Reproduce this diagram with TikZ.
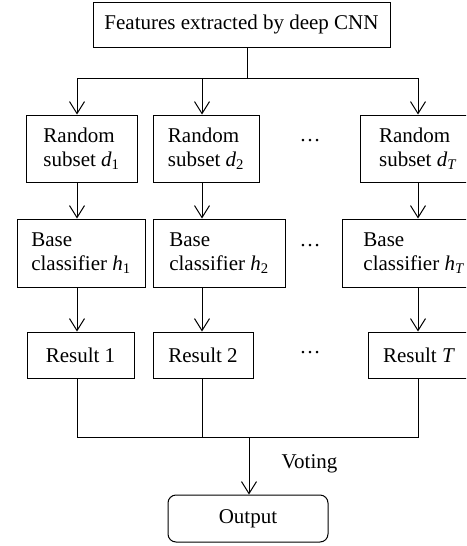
\documentclass[tikz,border=0pt]{standalone}
\usepackage{fontspec}
\setmainfont{Liberation Serif}
\usetikzlibrary{arrows.meta}

\begin{document}
\begin{tikzpicture}[x=1pt,y=-1pt,
	box/.style={draw, line width=1pt, align=left, inner sep=0pt, font=\fontsize{21}{24}\selectfont},
	lbl/.style={inner sep=0pt, font=\fontsize{21}{24}\selectfont},
	lin/.style={line width=1pt},
	arr/.style={line width=1pt, -{Straight Barb[length=12pt,width=15pt,line width=1pt]}}]
			\useasboundingbox (0,0) rectangle (466,546);
			\clip (0,0) rectangle (466,546);
			%%%%% START %%%%%
			\node[box, minimum width=297pt, minimum height=45pt] (feat) at (241.5,24.5) {Features extracted by deep CNN};
			
			\coordinate (colA) at (77,0);
			\coordinate (colB) at (202,0);
			\coordinate (colC) at (418,0);
			\coordinate (split) at (247,78);
			\coordinate (join) at (249,437);
			
			\node[box, minimum width=111pt, minimum height=67pt] (rnd1) at (81.5,148.5) {Random\\subset \textit{d}\textsubscript{1}};
			\node[box, minimum width=106pt, minimum height=67pt] (rnd2) at (206,148.5) {Random\\subset \textit{d}\textsubscript{2}};
			\node[box, minimum width=116pt, minimum height=67pt] (rnd3) at (418,148.5) {Random\\subset \textit{d}\textsubscript{\textit{T}}};
			
			\node[box, minimum width=128pt, minimum height=68pt] (base1) at (81,253) {Base\\classifier \textit{h}\textsubscript{1}};
			\node[box, minimum width=132pt, minimum height=68pt] (base2) at (219,253) {Base\\classifier \textit{h}\textsubscript{2}};
			\node[box, minimum width=144pt, minimum height=68pt] (base3) at (414,253) {Base\\classifier \textit{h}\textsubscript{\textit{T}}};
			
			\node[box, minimum width=107pt, minimum height=46pt] (res1) at (80.5,355) {Result 1};
			\node[box, minimum width=100pt, minimum height=46pt] (res2) at (203,355) {Result 2};
			\node[box, minimum width=102pt, minimum height=46pt] (res3) at (419,355) {Result \textit{T}};
			
			\node[lbl] (dots1) at (310,141) {\ldots};
			\node[lbl] (dots2) at (310,246) {\ldots};
			\node[lbl] (dots3) at (310,353) {\ldots};
			
			\node[box, rounded corners=8pt, minimum width=160pt, minimum height=47pt] (out) at (248,518.5) {Output};
			\node[lbl] (vote) at (309.5,464) {Voting};
			
			% split to the subsets
			\draw[lin] (feat.south -| split) -- (split);
			\draw[lin] (split -| colA) -- (split -| colC);
			\draw[arr] (split -| colA) -- (rnd1.north -| colA);
			\draw[arr] (split -| colB) -- (rnd2.north -| colB);
			\draw[arr] (split -| colC) -- (rnd3.north -| colC);
			
			\draw[arr] (rnd1.south -| colA) -- (base1.north -| colA);
			\draw[arr] (rnd2.south -| colB) -- (base2.north -| colB);
			\draw[arr] (rnd3.south -| colC) -- (base3.north -| colC);
			
			\draw[arr] (base1.south -| colA) -- (res1.north -| colA);
			\draw[arr] (base2.south -| colB) -- (res2.north -| colB);
			\draw[arr] (base3.south -| colC) -- (res3.north -| colC);
			
			% voting
			\draw[lin] (res1.south -| colA) -- (join -| colA) -- (join -| colC) -- (res3.south -| colC);
			\draw[lin] (res2.south -| colB) -- (join -| colB);
			\draw[arr] (join) -- (out.north -| join);
			%%%%% END %%%%%
\end{tikzpicture}
\end{document}
